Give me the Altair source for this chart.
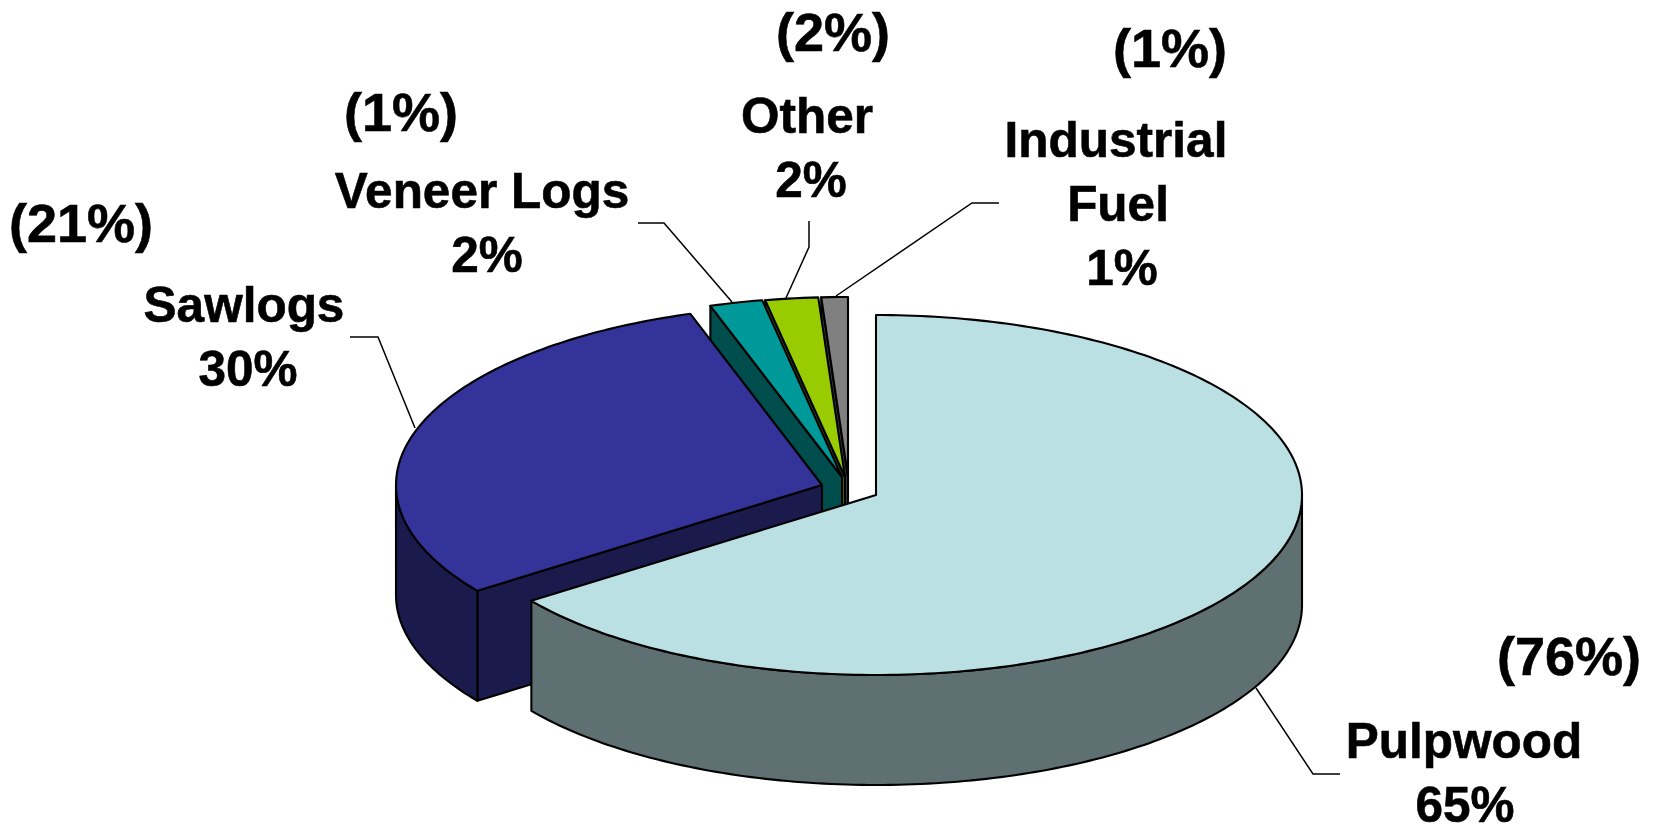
import math
import altair as alt

categories = ["Pulpwood", "Sawlogs", "Veneer Logs", "Other", "Industrial Fuel"]
shares = [65, 30, 2, 2, 1]
earlier_shares = [76, 21, 1, 2, 1]
top_colors = ["#BBE0E3", "#333399", "#009999", "#99CC00", "#808080"]
side_colors = ["#5E7072", "#1A1A4D", "#004D4D", "#4D6600", "#404040"]

# Page margin: the picture's coordinates are shifted by the 8px body margin.
M = 8
RX, RY, DEPTH = 426, 180, 110
# Where each slice's centre sits once exploded (the chart's 3-D layout).
centres = [(876, 495), (822, 485), (842, 477), (845, 477), (848, 477)]


def pt(c, deg, dy=0):
    t = math.radians(deg)
    return [c[0] + RX * math.sin(t) - M, c[1] - RY * math.cos(t) + dy - M]


def arc(c, a, b, dy=0):
    n = max(2, int(abs(b - a) / 1.0) + 1)
    return [pt(c, a + (b - a) * i / (n - 1), dy) for i in range(n)]


def poly(points, part):
    return {
        "type": "Feature",
        "properties": {"part": part},
        "geometry": {"type": "Polygon", "coordinates": [points + [points[0]]]},
    }


bounds = [0]
for s in shares:
    bounds.append(bounds[-1] + s * 3.6)

features = []
for i in range(len(shares) - 1, -1, -1):  # far slices first, nearest last
    a, b = bounds[i], bounds[i + 1]
    c = centres[i]
    name = categories[i]
    ax, ay = c[0] - M, c[1] - M
    if i > 0:  # the slice's cut face at its starting angle
        p = pt(c, a)
        features.append(poly([[ax, ay], p, [p[0], p[1] + DEPTH], [ax, ay + DEPTH]], name + " side"))
    lo, hi = max(a, 90), min(b, 270)
    if lo < hi:  # the outer rim facing the viewer
        features.append(poly(arc(c, lo, hi) + arc(c, hi, lo, DEPTH), name + " side"))
    features.append(poly([[ax, ay]] + arc(c, a, b), name + " top"))

domain = [n + " top" for n in categories] + [n + " side" for n in categories]
projection = alt.Projection(type="identity", scale=1, translate=[0, 0])

pie = (
    alt.Chart(alt.Data(values=features))
    .mark_geoshape(stroke="black", strokeWidth=2.1, strokeJoin="round")
    .encode(
        fill=alt.Fill(
            "properties.part:N",
            scale=alt.Scale(domain=domain, range=top_colors + side_colors),
            legend=None,
        )
    )
    .project(**projection.to_dict())
)

leader_paths = [
    [[1256, 688], [1313, 774], [1340, 774]],
    [[350, 337], [378, 337], [415, 428]],
    [[638, 223], [664, 223], [732, 302]],
    [[809, 221], [809, 247], [786, 298]],
    [[999, 203], [972, 203], [836, 296]],
]
leader_features = [
    {
        "type": "Feature",
        "properties": {"k": i},
        "geometry": {"type": "LineString", "coordinates": [[x - M, y - M] for x, y in path]},
    }
    for i, path in enumerate(leader_paths)
]
leaders = (
    alt.Chart(alt.Data(values=leader_features))
    .mark_geoshape(filled=False, stroke="black", strokeWidth=1.5)
    .project(**projection.to_dict())
)


def label(text, x, y, size=49.5):
    return (
        alt.Chart(alt.Data(values=[{"t": text}]))
        .mark_text(
            font="Liberation Sans",
            fontWeight="bold",
            fontSize=size,
            align="center",
            baseline="alphabetic",
            color="black",
            stroke="black",
            strokeWidth=0.6,
        )
        .encode(text="t:N", x=alt.value(x - M), y=alt.value(y - M))
    )


pct = [f"{s}%" for s in shares]
old = [f"({s}%)" for s in earlier_shares]
labels = [
    label(categories[0], 1464, 758), label(pct[0], 1465, 822), label(old[0], 1569, 675, 54),
    label(categories[1], 244, 322), label(pct[1], 248, 386), label(old[1], 81, 242, 54),
    label(categories[2], 482, 208), label(pct[2], 487, 272), label(old[2], 401, 131, 54),
    label(categories[3], 807, 133), label(pct[3], 811, 197), label(old[3], 833, 51, 54),
    label("Industrial", 1116, 157), label("Fuel", 1118, 221), label(pct[4], 1122, 285),
    label(old[4], 1170, 67, 54),
]

chart = (
    alt.layer(leaders, pie, *labels)
    .properties(width=1640, height=817, padding=0, autosize=alt.AutoSizeParams(type="none"))
    .configure_view(stroke=None)
)
chart.save("out.html", embed_options={"renderer": "svg", "actions": False})
